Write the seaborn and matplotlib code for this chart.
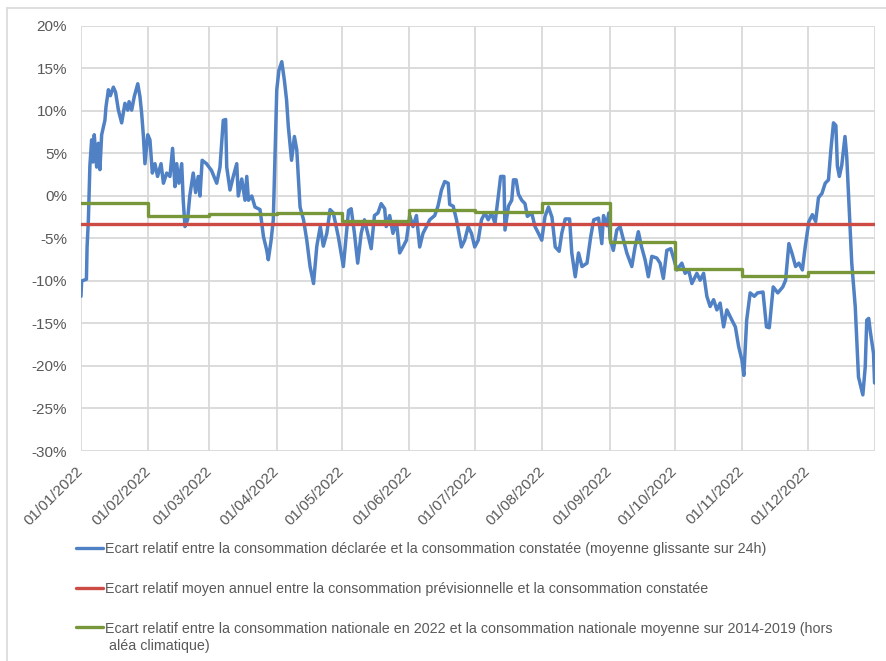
import numpy as np
import pandas as pd
import matplotlib
matplotlib.use("Agg")
import matplotlib.pyplot as plt
from matplotlib.lines import Line2D
import seaborn as sns

# blue series: day offset from 01/01/2022 and relative gap in %
blue_day = [0, 0.3, 2.5, 2.8, 3.4, 4.1, 4.9, 5.5, 6.1, 7.2, 8.0, 8.7, 9.5, 11.0, 11.5, 12.6, 13.5,
            14.9, 15.9, 17.2, 18.7, 20.2, 21.5, 22.1, 23.3, 24.5, 26.1, 27.1, 27.9, 28.7, 29.4, 30.7,
            31.7, 32.8, 34.0, 35.2, 36.8, 37.9, 39.4, 40.9, 42.1, 43.2, 44.0, 45.0, 46.3, 47.0, 47.8,
            49.0, 50.0, 51.6, 52.7, 53.9, 54.7, 55.7, 57.7, 60.0, 62.4, 63.9, 65.4, 66.5, 67.0, 68.5,
            70.0, 71.6, 72.3, 73.9, 75.4, 76.2, 77.0, 78.5, 80.0, 82.3, 83.9, 85.4, 86.1, 87.4, 88.4,
            88.9, 90.0, 91.0, 92.3, 93.5, 94.5, 95.3, 96.8, 98.1, 99.2, 100.7, 102.3, 103.8, 105.3,
            106.9, 108.4, 110.0, 111.4, 113.0, 114.5, 116.0, 118.3, 120.6, 123.0, 124.2, 125.7, 127.2,
            128.8, 130.3, 131.8, 133.4, 134.9, 136.5, 138.0, 139.6, 140.3, 141.9, 143.4, 145.0, 146.5,
            148.0, 149.6, 151.1, 152.6, 154.2, 155.7, 157.2, 158.8, 160.3, 162.6, 164.1, 165.7, 167.2,
            168.8, 169.5, 171.1, 172.6, 174.9, 176.4, 178.0, 179.5, 181.0, 182.6, 184.1, 185.7, 187.2,
            188.7, 190.3, 191.8, 192.9, 194.4, 194.9, 196.5, 198.0, 198.8, 200.0, 201.1, 202.6, 204.1,
            205.2, 207.2, 208.7, 210.3, 211.8, 213.3, 214.9, 216.5, 218.0, 219.8, 221.0, 222.6, 224.6,
            225.6, 227.2, 228.7, 230.3, 232.6, 234.3, 235.7, 237.9, 239.4, 240.2, 241.7, 242.6, 243.2,
            244.7, 246.3, 247.8, 249.4, 250.9, 253.2, 254.7, 256.2, 257.7, 259.3, 260.8, 262.4, 264.7,
            266.2, 267.7, 269.3, 271.1, 272.6, 273.9, 276.2, 277.7, 279.3, 280.8, 283.1, 284.6, 286.2,
            287.7, 289.2, 290.8, 292.3, 293.8, 295.4, 296.9, 299.2, 300.8, 302.3, 303.8, 304.7, 306.0,
            307.6, 309.5, 311.0, 313.5, 315.1, 316.4, 318.2, 320.3, 322.6, 323.9, 325.4, 326.9, 328.5,
            330.0, 331.6, 333.0, 334.6, 336.2, 337.7, 339.0, 340.6, 342.1, 343.6, 344.7, 345.9, 347.0,
            347.7, 348.6, 349.7, 351.2, 352.0, 353.2, 354.3, 355.9, 357.4, 359.4, 360.5, 361.2, 362.1,
            362.8, 363.6, 364.3, 364.8]
blue_pct = [-11.8, -10.0, -9.8, -6.0, -2.8, 3.6, 6.6, 4.0, 7.2, 3.4, 6.2, 3.1, 7.2, 8.9, 10.5, 12.5, 11.8,
            12.8, 12.2, 10.1, 8.6, 10.9, 10.1, 11.1, 10.1, 11.7, 13.2, 11.7, 9.7, 7.0, 3.8, 7.2,
            6.6, 2.7, 3.8, 2.3, 3.8, 1.5, 2.7, 2.3, 5.6, 1.1, 3.8, 1.5, 3.8, -0.5, -3.6,
            -2.8, 0.0, 2.7, 0.4, 2.3, 0.0, 4.2, 3.8, 3.0, 1.5, 3.4, 8.9, 9.0, 3.4, 0.7,
            2.3, 3.8, 0.0, 2.0, -0.5, 2.3, -0.5, 0.0, -1.3, -1.6, -4.8, -6.4, -7.5, -5.2, -2.8,
            2.0, 12.5, 14.8, 15.8, 13.6, 11.3, 8.2, 4.2, 7.0, 5.4, -1.3, -2.8, -5.2, -8.3,
            -10.3, -5.9, -3.6, -5.9, -4.4, -1.6, -2.0, -4.8, -8.3, -1.7, -1.5, -4.4, -7.9,
            -4.4, -2.8, -4.4, -6.2, -2.3, -2.0, -0.9, -1.5, -3.6, -2.3, -4.4, -3.0, -6.7,
            -6.0, -5.2, -2.3, -3.6, -2.3, -6.0, -4.4, -3.6, -2.8, -2.3, -1.2, 0.7, 1.7,
            1.5, -1.0, -1.2, -2.8, -6.0, -5.2, -3.6, -4.4, -6.0, -5.2, -2.8, -2.0, -2.8,
            -2.0, -3.2, -0.1, 2.3, 2.3, -4.0, -1.2, -0.5, 1.9, 1.9, 0.2, -0.5, -0.9,
            -2.4, -2.0, -3.6, -4.4, -5.2, -2.4, -1.3, -2.5, -6.0, -6.5, -4.4, -2.7, -2.7,
            -6.7, -9.5, -6.7, -8.3, -7.9, -4.8, -2.8, -2.6, -5.6, -2.3, -3.5, -2.0, -5.0,
            -6.4, -4.0, -3.6, -5.2, -6.7, -8.3, -6.0, -4.2, -6.0, -7.5, -9.5, -7.1, -7.3,
            -7.9, -9.7, -6.4, -6.2, -7.5, -8.7, -7.9, -9.1, -8.7, -10.3, -9.1, -9.9, -9.1,
            -11.8, -13.0, -12.2, -13.4, -12.6, -15.4, -13.4, -14.6, -15.4, -17.7, -19.3, -21.1, -14.6,
            -11.4, -11.8, -11.4, -11.3, -15.4, -15.5, -10.7, -11.4, -10.7, -9.9, -5.6, -6.8, -8.3,
            -7.9, -8.7, -5.8, -3.0, -2.2, -3.0, -0.2, 0.3, 1.5, 1.9, 5.4, 8.6, 8.3,
            3.5, 2.3, 3.6, 7.0, 4.6, -2.0, -7.9, -13.0, -21.3, -23.4, -20.1, -14.6, -14.4,
            -15.9, -17.3, -18.5, -22.0]

# red series: annual mean gap
red_pct = -3.3

# green series: monthly gap vs 2014-2019 average (one value per month)
green_months = ["2022-01-01", "2022-02-01", "2022-03-01", "2022-04-01", "2022-05-01", "2022-06-01",
                "2022-07-01", "2022-08-01", "2022-09-01", "2022-10-01", "2022-11-01", "2022-12-01"]
green_pct = [-0.8, -2.3, -2.1, -2.0, -2.9, -1.6, -1.9, -0.8, -5.4, -8.6, -9.4, -9.0]

tick_months = green_months + ["2023-01-01"]
tick_labels = ["01/01/2022", "01/02/2022", "01/03/2022", "01/04/2022", "01/05/2022", "01/06/2022",
               "01/07/2022", "01/08/2022", "01/09/2022", "01/10/2022", "01/11/2022", "01/12/2022", ""]
y_ticks = [20, 15, 10, 5, 0, -5, -10, -15, -20, -25, -30]

labels = ["Ecart relatif entre la consommation déclarée et la consommation constatée (moyenne glissante sur 24h)",
          "Ecart relatif moyen annuel entre la consommation prévisionnelle et la consommation constatée",
          "Ecart relatif entre la consommation nationale en 2022 et la consommation nationale moyenne sur 2014-2019 (hors"]
label_cont = "aléa climatique)"

sns.set_style("white")
plt.rcParams["font.family"] = ["Liberation Sans", "DejaVu Sans"]

start = pd.Timestamp("2022-01-01")
end = pd.Timestamp("2023-01-01")
df_blue = pd.DataFrame({"date": start + pd.to_timedelta(blue_day, unit="D"), "pct": blue_pct})
df_red = pd.DataFrame({"date": [start, end], "pct": [red_pct, red_pct]})
df_green = pd.DataFrame({"date": pd.to_datetime(green_months + ["2023-01-01"]),
                         "pct": green_pct + [green_pct[-1]]})

fig = plt.figure(figsize=(8.87, 6.61), dpi=100)
ax = fig.add_axes([0.0913, 0.3177, 0.8952, 0.643])

c_blue, c_red, c_green = "#4f81c4", "#cc4b44", "#78973a"
sns.lineplot(data=df_blue, x="date", y="pct", ax=ax, color=c_blue, lw=2.5, zorder=3)
sns.lineplot(data=df_red, x="date", y="pct", ax=ax, color=c_red, lw=2.4, zorder=4)
sns.lineplot(data=df_green, x="date", y="pct", ax=ax, color=c_green, lw=2.4, zorder=5,
             drawstyle="steps-post")

ax.set_xlim(start, end)
ax.set_ylim(-30, 20)
ax.set_yticks(y_ticks)
ax.set_yticklabels([f"{v}%" for v in y_ticks])
ax.set_xticks(pd.to_datetime(tick_months))
ax.set_xticklabels(tick_labels, rotation=45, ha="right", va="center", rotation_mode="anchor")
ax.set_xlabel("")
ax.set_ylabel("")
ax.grid(True, color="#d9d9d9", lw=1.3)
ax.set_axisbelow(True)
for s in ax.spines.values():
    s.set_visible(False)
ax.tick_params(axis="both", length=0, labelsize=11, labelcolor="#595959")
ax.tick_params(axis="y", pad=10)
ax.tick_params(axis="x", pad=13)

# outer chart frame (left and top edges)
fig.add_artist(Line2D([7 / 887, 7 / 887], [0, 1 - 8 / 661], color="#d9d9d9", lw=1.2))
fig.add_artist(Line2D([7 / 887, 1], [1 - 8 / 661, 1 - 8 / 661], color="#d9d9d9", lw=1.2))

handles = [Line2D([], [], color=c, lw=2.4) for c in (c_blue, c_red, c_green)]
leg = fig.legend(handles, labels, loc="upper left", bbox_to_anchor=(76 / 887, 1 - 542 / 661),
                 frameon=False, fontsize=10.3, labelcolor="#595959", handlelength=1.9,
                 handletextpad=0.15, labelspacing=1.8, borderpad=0, borderaxespad=0)
fig.text(109 / 887, 1 - 646 / 661, label_cont, fontsize=10.3, color="#595959", va="center")

fig.savefig("out.png", dpi=100)
